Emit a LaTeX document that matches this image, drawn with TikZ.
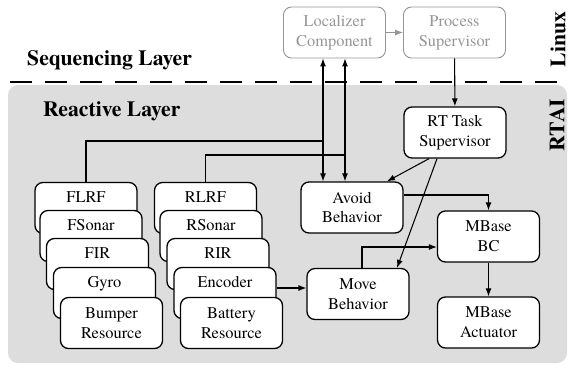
\documentclass[tikz,border=0pt]{standalone}
\usepackage{fontspec}
\setmainfont{texgyretermes}[Extension=.otf, UprightFont=*-regular, BoldFont=*-bold, ItalicFont=*-italic, BoldItalicFont=*-bolditalic]
\usetikzlibrary{arrows.meta, positioning}

\definecolor{layergray}{RGB}{221,221,221}
\definecolor{linuxgray}{RGB}{150,150,150}

\begin{document}
\begin{tikzpicture}[
    x=0.03cm, y=-0.03cm,
    comp/.style={draw, rounded corners=0.24cm, line width=1.1pt, fill=white, minimum width=3.06cm, minimum height=1.53cm, align=center, inner sep=0pt, font=\fontsize{14}{17}\selectfont},
    linux/.style={comp, draw=linuxgray, text=linuxgray, line width=0.8pt},
    res/.style={comp},
    res label/.style={anchor=north, inner sep=0pt, yshift=-0.29cm, font=\fontsize{14}{17}\selectfont},
    layer/.style={anchor=base west, inner sep=0pt, font=\fontsize{18.5}{22}\selectfont\bfseries},
    os/.style={rotate=90, inner sep=0pt, font=\fontsize{18.5}{22}\selectfont\bfseries},
    arr/.style={-{Latex[length=2.4mm,width=1.8mm]}, line width=0.9pt},
    arr2/.style={{Latex[length=2.4mm,width=1.8mm]}-{Latex[length=2.4mm,width=1.8mm]}, line width=0.9pt}
]
\useasboundingbox (0,0) rectangle (569,367);

% Layers
\fill[layergray, rounded corners=0.3cm] (8,85) rectangle (567,363);
\draw[line width=1.3pt, dash pattern=on 0.65cm off 0.4cm, dash phase=0.75cm] (0,82) -- (569,82);
\node[layer] (seq) at (27,65) {Sequencing Layer};
\node[layer] (react) at (43,116) {Reactive Layer};
\node[os] (linuxos) at (558,39.5) {Linux};
\node[os] (rtai) at (557,125) {RTAI};

% Linux components
\node[linux] (lc) at (334.5,32.5) {Localizer\\Component};
\node[linux] (ps) at (454.5,32.5) {Process\\Supervisor};

% RTAI components
\node[comp] (rt) at (455,132.5) {RT Task\\Supervisor};
\node[comp] (avoid) at (352,207.5) {Avoid\\Behavior};
\node[comp] (mbc) at (488.5,236.5) {MBase\\BC};
\node[comp] (move) at (358,294) {Move\\Behavior};
\node[comp] (mba) at (488.5,322.5) {MBase\\Actuator};

% Front resources
\node[res, label={[res label]north:FLRF}] (flrf) at (86,208) {};
\node[res, label={[res label]north:FSonar}] (fsonar) at (91,236) {};
\node[res, label={[res label]north:FIR}] (fir) at (97.5,264) {};
\node[res, label={[res label]north:Gyro}] (gyro) at (104.5,293) {};
\node[res] (bumper) at (111.5,323) {Bumper\\Resource};

% Rear resources
\node[res, label={[res label]north:RLRF}] (rlrf) at (205.5,208) {};
\node[res, label={[res label]north:RSonar}] (rsonar) at (211,236) {};
\node[res, label={[res label]north:RIR}] (rir) at (218,264) {};
\node[res, label={[res label]north:Encoder}] (enc) at (225,293) {};
\node[res] (battery) at (231.5,323) {Battery\\Resource};

% Junctions
\coordinate (j1) at (323,141);
\coordinate (j2) at (345,155);

% Connections
\draw[arr, draw=linuxgray, line width=0.7pt] (lc) -- (ps);
\draw[arr] (ps) -- (rt);
\draw[arr2] (avoid.north -| j1) -- (lc.south -| j1);
\draw[arr2] (avoid.north -| j2) -- (lc.south -| j2);
\draw[line width=0.9pt] (flrf.north) |- (j1);
\draw[line width=0.9pt] (rlrf.north) |- (j2);
\draw[arr] ([xshift=-0.78cm]rt.south) -- ([xshift=1.05cm]avoid.north);
\draw[arr] ([xshift=-0.54cm]rt.south) -- ([xshift=1.17cm]move.north);
\draw[arr] ([yshift=0.375cm]avoid.east) -| (mbc.north);
\draw[arr] ([xshift=0.12cm]move.north) |- ([yshift=-0.315cm]mbc.west);
\draw[arr] (mbc) -- (mba);
\draw[arr] ([yshift=0.15cm]enc.east) -- ([yshift=0.15cm]enc.east -| move.west);

\end{tikzpicture}
\end{document}
